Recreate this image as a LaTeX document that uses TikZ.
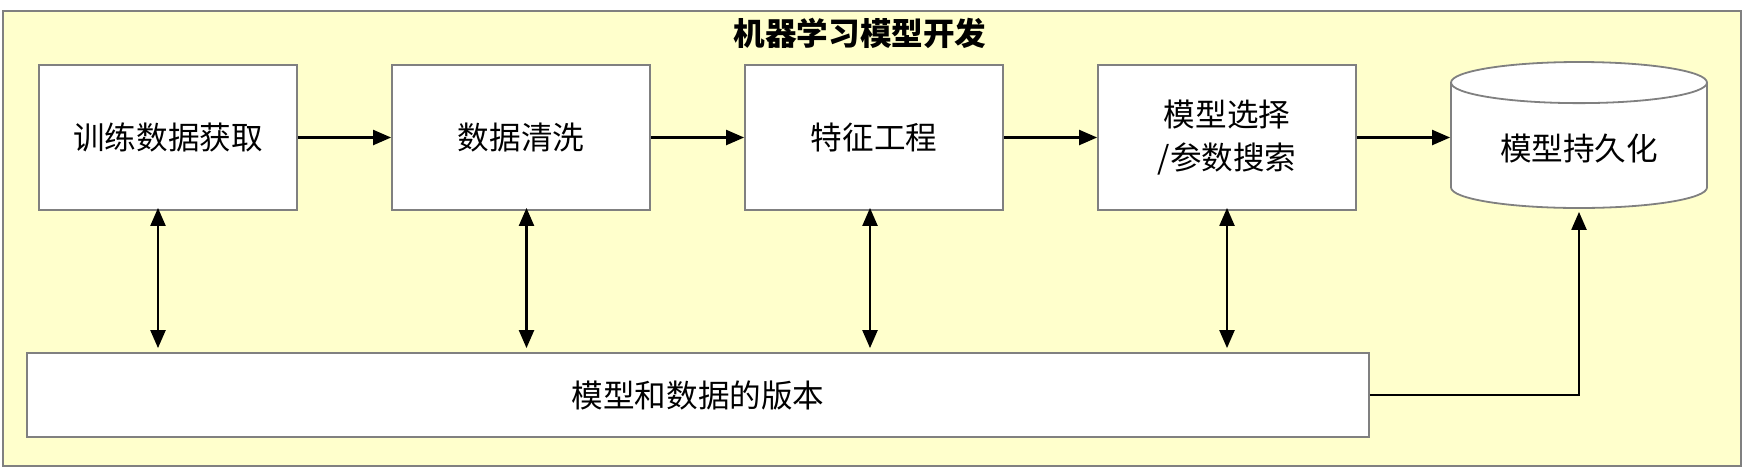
\documentclass[tikz,border=0pt]{standalone}
\usepackage{fontspec}
\setmainfont{Noto Sans CJK SC}
\usetikzlibrary{arrows.meta,shapes.geometric}
\definecolor{framefill}{HTML}{FFFFCC}
\definecolor{framegray}{HTML}{808080}
\newcommand{\boxfont}{\fontsize{15.8}{21.5}\selectfont}

\tikzset{
  stagebox/.style={draw=framegray, line width=0.9pt, fill=white, minimum width=129pt,
    minimum height=72.5pt, align=center, font=\boxfont},
  storebox/.style={cylinder, shape border rotate=90, aspect=0.24, draw=framegray,
    line width=0.9pt, fill=white, minimum width=128pt, minimum height=73pt, font=\boxfont},
  flow/.style={-{Triangle[length=9pt,width=7.5pt]}, line width=1.1pt},
  both/.style={{Triangle[length=9pt,width=7.5pt]}-{Triangle[length=9pt,width=7.5pt]}, line width=1.1pt},
}

\begin{document}
\begin{tikzpicture}[x=0.5pt, y=-0.5pt]
  \useasboundingbox (0,0) rectangle (1744,468);
  % outer frame
  \draw[draw=framegray, line width=0.9pt, fill=framefill] (3,11) rectangle (1741,466);
  \node[font=\bfseries\fontsize{15.8}{19}\selectfont] (title) at (860,33) {机器学习模型开发};

  % pipeline stages
  \node[stagebox] (acquire) at (168,137.5) {训练数据获取};
  \node[stagebox] (clean) at (521,137.5) {数据清洗};
  \node[stagebox] (feature) at (874,137.5) {特征工程};
  \node[stagebox] (select) at (1227,137.5) {模型选择\\/参数搜索};
  \node[storebox] (store) at (1579,149) {模型持久化};
  \node[stagebox, minimum width=671pt, minimum height=42pt] (version) at (698,395) {模型和数据的版本};

  \draw[flow] (acquire.east) -- (clean.west);
  \draw[flow] (clean.east) -- (feature.west);
  \draw[flow] (feature.east) -- (select.west);
  \draw[flow] (select.east) -- (select.east -| store.west);

  % versioning links
  \draw[both, shorten <=-1.5pt, shorten >=2pt] ([xshift=-5pt]acquire.south) -- ([xshift=-5pt]acquire.south |- version.north);
  \draw[both, shorten <=-1.5pt, shorten >=2pt] ([xshift=2.75pt]clean.south) -- ([xshift=2.75pt]clean.south |- version.north);
  \draw[both, shorten <=-1.5pt, shorten >=2pt] ([xshift=-2pt]feature.south) -- ([xshift=-2pt]feature.south |- version.north);
  \draw[both, shorten <=-1.5pt, shorten >=2pt] (select.south) -- (select.south |- version.north);
  \draw[flow, shorten >=1.5pt] (version.east) -| (store.south);
\end{tikzpicture}
\end{document}
